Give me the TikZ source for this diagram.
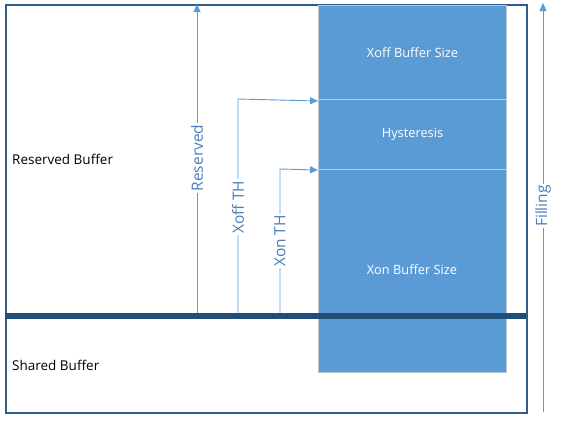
\documentclass[tikz,border=0pt]{standalone}
\usepackage{fontspec}
\setmainfont{Open Sans}
\usetikzlibrary{arrows.meta}
\definecolor{frame}{HTML}{2E5D8C}
\definecolor{thick}{HTML}{1F4E79}
\definecolor{colfill}{HTML}{5B9BD5}
\definecolor{colline}{HTML}{BFC7D0}
\definecolor{arrowc}{HTML}{5B9BD5}
\definecolor{labc}{HTML}{4A7EBB}
\tikzset{
  colbox/.style={draw=colline, line width=1pt, fill=colfill, text=white, font=\fontsize{12.8}{15}\selectfont, minimum width=188pt, inner sep=0pt, anchor=north west},
  arr/.style={draw=arrowc, line width=0.9pt, -{Triangle[length=8pt,width=7pt]}},
  vlab/.style={rotate=90, fill=white, text=labc, font=\fontsize{15.5}{18}\selectfont, inner sep=1.5pt},
  plain/.style={font=\fontsize{13.5}{16}\selectfont, anchor=west, inner sep=0pt},
}
\begin{document}
\begin{tikzpicture}[x=1pt,y=-1pt]
\useasboundingbox (0,0) rectangle (566,421);
% outer frame
\node[draw=frame, line width=2pt, minimum width=521pt, minimum height=408pt, anchor=north west, inner sep=0pt] (frame) at (5,4) {};
% column
\node[colbox, minimum height=95pt] (xoff) at (318,5) {Xoff Buffer Size};
\node[colbox, minimum height=70pt] (hyst) at (318,99) {Hysteresis};
\node[colbox, minimum height=203pt] (xon) at (318,169) {};
\node[text=white, font=\fontsize{12.8}{15}\selectfont] (xonlab) at (412,270) {Xon Buffer Size};
% thick separator
\coordinate (sepL) at (5,316);
\coordinate (sepR) at (526,316);
\draw[draw=thick, line width=5.5pt] (sepL) -- (sepR);
% texts
\node[plain] (resbuf) at (12,159) {Reserved Buffer};
\node[plain] (shbuf) at (12,365) {Shared Buffer};
% Reserved arrow
\coordinate (resB) at (197,313);
\coordinate (resT) at (197,4);
\draw[arr] (resB) -- (resT);
\node[vlab] (reslab) at (197,158) {Reserved};
% Xoff TH
\coordinate (xoffB) at (238,313);
\coordinate (xoffK) at (238,99);
\draw[arr] (xoffB) -- (xoffK) -- (xoff.south west);
\node[vlab] (xofflab) at (238,207) {Xoff TH};
% Xon TH
\coordinate (xonB) at (280,313);
\coordinate (xonK) at (280,169);
\draw[arr] (xonB) -- (xonK) -- (hyst.south west);
\node[vlab] (xonthlab) at (280,241) {Xon TH};
% Filling
\coordinate (fillB) at (543,412);
\coordinate (fillT) at (543,3);
\draw[arr] (fillB) -- (fillT);
\node[vlab] (filllab) at (543,206) {Filling};
\end{tikzpicture}
\end{document}
